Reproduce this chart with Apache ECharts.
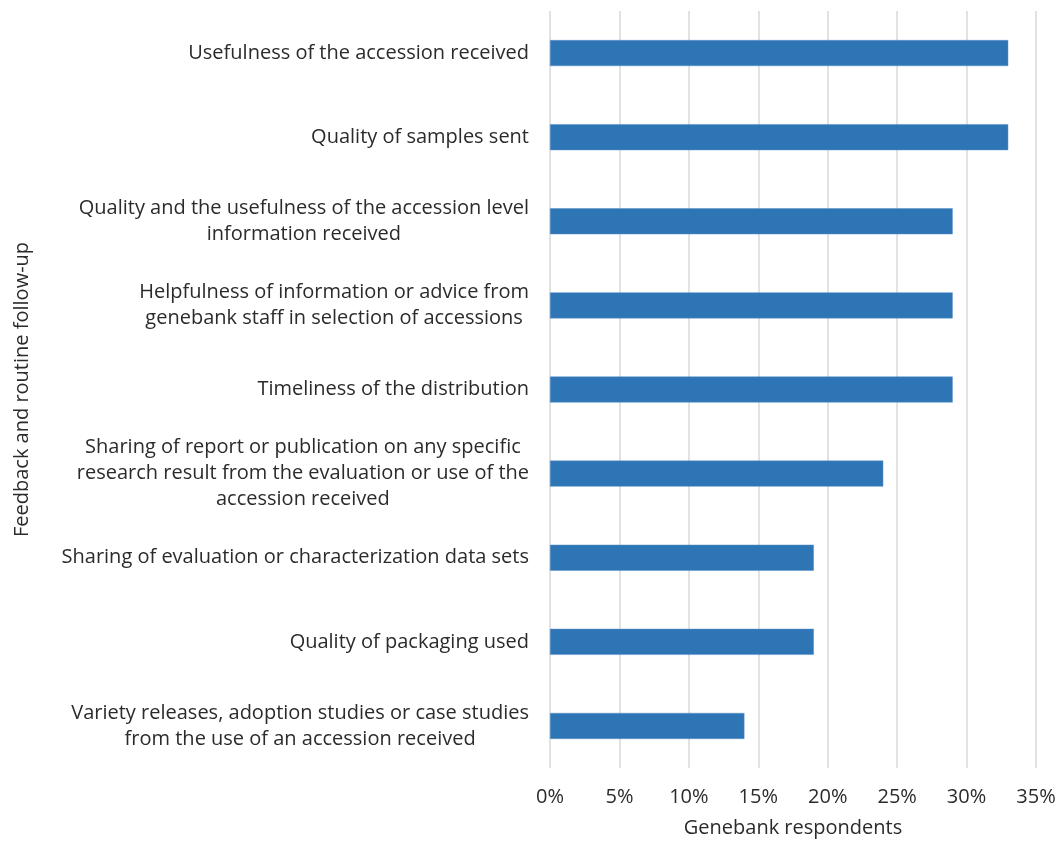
<!DOCTYPE html>
<html>
<head>
<meta charset="utf-8">
<script src="https://cdn.jsdelivr.net/npm/echarts@6/dist/echarts.min.js"></script>
<style>
  html, body { margin: 0; padding: 0; background: #ffffff; }
  #chart { width: 1059px; height: 843px; }
</style>
</head>
<body>
<div id="chart"></div>
<script>
// Feedback topics (top to bottom); "\n" marks a line break in the label
const categories = [
  'Usefulness of the accession received',
  'Quality of samples sent',
  'Quality and the usefulness of the accession level\ninformation received',
  'Helpfulness of information or advice from\ngenebank staff in selection of accessions',
  'Timeliness of the distribution',
  'Sharing of report or publication on any specific\nresearch result from the evaluation or use of the\naccession received',
  'Sharing of evaluation or characterization data sets',
  'Quality of packaging used',
  'Variety releases, adoption studies or case studies\nfrom the use of an accession received'
];

// Share of genebank respondents, in percent
const values = [33, 33, 29, 29, 29, 24, 19, 19, 14];

const xTicks = [0, 5, 10, 15, 20, 25, 30, 35];

const FONT = '"Open Sans", "Noto Sans", sans-serif';
const TEXT = '#2b2b2b';
const FS = 20;

const chart = echarts.init(document.getElementById('chart'), null, { renderer: 'canvas' });

chart.setOption({
  animation: false,
  backgroundColor: '#ffffff',
  grid: { left: 550, right: 23, top: 11, bottom: 72, containLabel: false },
  xAxis: {
    type: 'value',
    min: xTicks[0],
    max: xTicks[xTicks.length - 1],
    interval: 5,
    name: 'Genebank respondents',
    nameLocation: 'middle',
    nameGap: 50,
    nameTextStyle: { fontFamily: FONT, fontSize: FS, color: TEXT },
    axisLine: { show: false },
    axisTick: { show: false },
    axisLabel: {
      margin: 19,
      fontFamily: FONT, fontSize: FS, color: TEXT,
      formatter: v => v + '%'
    },
    splitLine: { show: true, lineStyle: { color: '#d9d9d9', width: 1.5 } }
  },
  yAxis: {
    type: 'category',
    inverse: true,
    data: categories,
    name: 'Feedback and routine follow-up',
    nameLocation: 'middle',
    nameRotate: 90,
    nameGap: 518,
    nameTextStyle: { fontFamily: FONT, fontSize: FS, color: TEXT },
    axisLine: { show: false },
    axisTick: { show: false },
    axisLabel: {
      margin: 21,
      fontFamily: FONT, fontSize: FS, color: TEXT,
      lineHeight: 26,
      // each line centred inside the right-aligned label block
      formatter: v => v.split('\n').map(l => '{c|' + l + '}').join('\n'),
      rich: {
        c: { align: 'center', fontFamily: FONT, fontSize: FS, color: TEXT, lineHeight: 26 }
      }
    },
    splitLine: { show: false }
  },
  series: [{
    type: 'bar',
    data: values,
    barWidth: 26,
    itemStyle: { color: '#2E75B6', borderColor: '#5B91C6', borderWidth: 0.5 }
  }]
});
</script>
</body>
</html>
